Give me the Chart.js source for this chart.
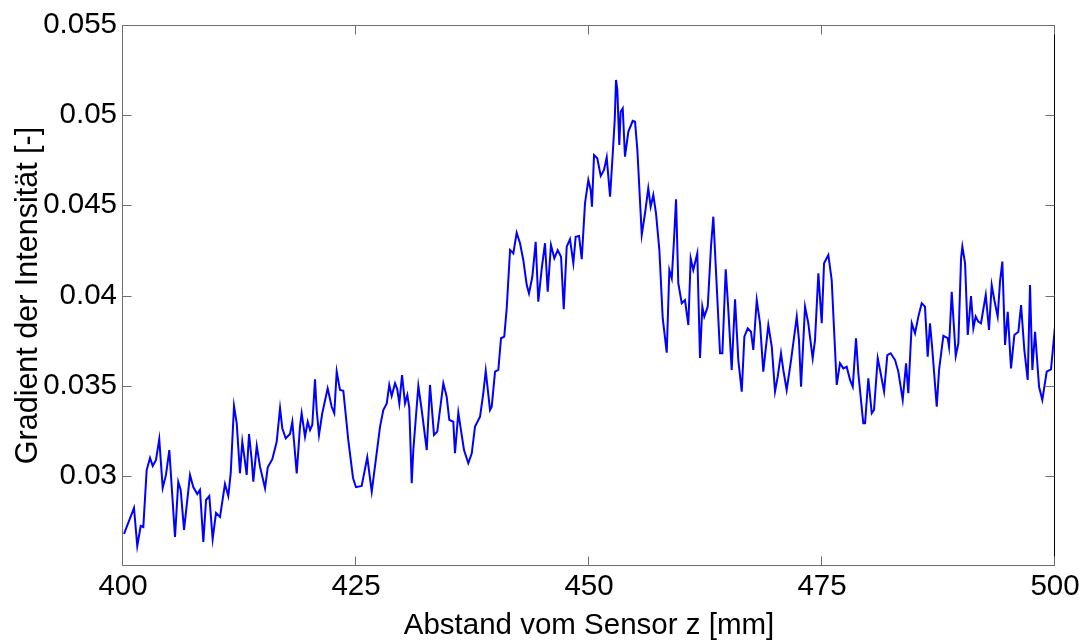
<!DOCTYPE html>
<html>
<head>
<meta charset="utf-8">
<script src="https://cdn.jsdelivr.net/npm/chart.js@4/dist/chart.umd.min.js"></script>
<style>
html,body{margin:0;padding:0;background:#fff;}
#wrap{width:1085px;height:641px;position:relative;}
</style>
</head>
<body>
<div id="wrap"><canvas id="c" width="1085" height="641"></canvas></div>
<script>
// Abstand vom Sensor z [mm]
const distance = [
400.11,401.18,401.53,401.90,402.18,402.54,402.90,403.19,403.54,403.89,404.26,404.61,404.97,405.58,405.93,406.19,406.55,407.19,407.54,407.97,408.26,408.62,408.91,409.26,409.62,409.98,410.41,410.94,411.30,411.56,411.91,412.20,
412.55,412.80,413.02,413.27,413.52,413.81,413.98,414.35,414.70,415.24,415.53,416.02,416.49,416.85,417.09,417.46,417.92,418.17,418.64,418.99,419.17,419.53,419.82,420.07,420.31,420.60,420.78,421.03,421.38,421.96,422.39,422.67,422.93,423.28,423.64,424.17,
424.68,425.00,425.61,426.21,426.69,427.58,427.93,428.30,428.57,428.83,429.19,429.43,429.65,429.94,430.26,430.51,430.72,430.98,431.15,431.69,432.05,432.59,432.94,433.37,433.72,434.37,434.73,435.01,435.44,435.62,435.98,436.34,436.59,
437.05,437.42,437.77,438.31,438.66,438.92,439.38,439.56,439.92,440.27,440.56,440.91,441.17,441.53,441.88,442.24,442.60,442.95,443.32,443.56,443.92,444.28,444.56,444.93,445.28,445.57,445.92,446.28,446.64,447.00,447.29,447.61,447.96,448.32,448.57,448.93,449.22,
449.57,449.93,450.18,450.32,450.54,450.89,451.26,451.61,451.90,452.26,452.55,452.76,452.90,453.04,453.25,453.40,453.62,453.86,454.22,454.69,454.94,455.19,455.66,456.01,456.36,456.62,456.90,457.19,457.55,457.91,458.34,458.62,458.88,459.12,459.34,459.58,459.95,460.30,460.66,460.91,461.19,461.62,
461.91,462.16,462.37,462.74,463.09,463.34,463.60,464.06,464.31,464.67,464.95,465.31,465.67,466.02,466.39,466.67,467.03,467.38,467.63,468.00,468.35,468.70,469.24,469.61,469.96,470.25,470.60,470.85,471.21,471.68,472.29,472.53,472.75,473.18,473.53,474.00,
474.25,474.61,474.97,475.22,475.68,476.04,476.58,476.93,477.29,477.65,478.01,478.30,478.65,478.90,479.43,479.62,479.97,480.34,480.58,480.98,481.23,481.66,482.01,482.37,482.84,483.19,483.66,484.02,484.26,484.63,484.98,485.34,485.70,486.05,
486.34,486.59,486.84,487.31,487.56,488.02,488.49,488.63,488.92,489.35,489.63,489.92,490.06,490.35,490.64,490.99,491.24,491.49,491.77,492.06,492.57,492.92,493.21,493.49,493.85,494.10,494.35,494.64,494.93,495.28,495.64,496.07,496.36,496.71,497.07,497.32,497.57,497.86,498.29,498.64,499.11,499.57,500.00
];
// Gradient der Intensität [-]
const gradient = [
0.02678,0.02822,0.02611,0.02722,0.02716,0.03032,0.03099,0.03055,0.03088,0.03204,0.02933,0.03005,0.03143,0.02661,0.02966,0.02922,0.02700,0.03005,0.02938,0.02899,0.02922,0.02633,0.02866,0.02888,0.02650,0.02794,0.02772,0.02955,0.02888,0.03016,0.03387,0.03293,
0.03014,0.03189,0.03106,0.03005,0.03232,0.03088,0.02968,0.03166,0.03051,0.02931,0.03047,0.03092,0.03189,0.03375,0.03264,0.03208,0.03232,0.03300,0.03014,0.03273,0.03347,0.03217,0.03300,0.03254,0.03282,0.03535,0.03365,0.03227,0.03347,0.03485,0.03383,0.03347,0.03578,0.03476,0.03472,0.03199,
0.02988,0.02937,0.02944,0.03103,0.02912,0.03273,0.03365,0.03402,0.03504,0.03443,0.03513,0.03480,0.03402,0.03559,0.03402,0.03448,0.03375,0.02959,0.03143,0.03498,0.03365,0.03143,0.03504,0.03227,0.03245,0.03513,0.03439,0.03310,0.03300,0.03125,0.03350,0.03227,0.03143,
0.03070,0.03125,0.03273,0.03328,0.03458,0.03583,0.03365,0.03383,0.03578,0.03587,0.03763,0.03772,0.03929,0.04252,0.04234,0.04348,0.04290,0.04197,0.04058,0.04012,0.04104,0.04298,0.03966,0.04151,0.04290,0.04021,0.04280,0.04206,0.04252,0.04215,0.03924,0.04271,0.04312,0.04179,0.04326,0.04330,0.04201,
0.04511,0.04641,0.04585,0.04492,0.04779,0.04761,0.04663,0.04696,0.04766,0.04548,0.04789,0.04973,0.05195,0.05140,0.04835,0.05019,0.05038,0.04770,0.04908,0.04969,0.04964,0.04807,0.04336,0.04456,0.04595,0.04492,0.04557,0.04456,0.04252,0.03874,0.03683,0.04141,0.04095,0.04308,0.04533,0.04068,0.03957,0.03975,0.03836,0.04206,0.04141,0.04234,
0.03654,0.03938,0.03883,0.03938,0.04271,0.04437,0.04160,0.03680,0.03680,0.04145,0.03920,0.03587,0.03979,0.03642,0.03467,0.03772,0.03818,0.03799,0.03698,0.03975,0.03846,0.03578,0.03836,0.03716,0.03467,0.03550,0.03680,0.03587,0.03476,0.03642,0.03883,0.03753,0.03494,0.03938,0.03846,0.03652,
0.03753,0.04123,0.03846,0.04179,0.04225,0.04086,0.03504,0.03624,0.03596,0.03605,0.03532,0.03494,0.03763,0.03569,0.03291,0.03291,0.03541,0.03347,0.03365,0.03652,0.03587,0.03467,0.03670,0.03680,0.03642,0.03578,0.03421,0.03624,0.03458,0.03846,0.03790,0.03883,0.03957,0.03938,
0.03661,0.03846,0.03698,0.03383,0.03587,0.03776,0.03763,0.03716,0.04021,0.03665,0.03735,0.04206,0.04271,0.04179,0.03781,0.03997,0.03818,0.03883,0.03855,0.03846,0.04003,0.03809,0.04058,0.03975,0.03883,0.04077,0.04188,0.03726,0.03910,0.03596,0.03781,0.03799,0.03947,0.03698,0.03532,0.04058,0.03587,0.03799,0.03494,0.03421,0.03578,0.03591,0.03827
];
const xTicks = [400, 425, 450, 475, 500];
const yTicks = [0.03, 0.035, 0.04, 0.045, 0.05, 0.055];

const FONT = "'Liberation Sans', Arial, Helvetica, sans-serif";

const boxPlugin = {
  id: 'matlabBox',
  afterDraw(chart) {
    const {ctx, chartArea: a, scales} = chart;
    ctx.save();
    ctx.lineWidth = 1;
    ctx.strokeStyle = '#6e6e6e';
    const L = Math.round(a.left) - 0.5, R = Math.round(a.right) - 0.5;
    const T = Math.round(a.top) + 0.5, B = Math.round(a.bottom) - 0.5;
    ctx.beginPath();
    ctx.moveTo(R, T); ctx.lineTo(L, T); ctx.lineTo(L, B); ctx.lineTo(R, B);
    ctx.stroke();
    ctx.strokeStyle = '#000';
    ctx.beginPath(); ctx.moveTo(R, T); ctx.lineTo(R, B); ctx.stroke();
    ctx.strokeStyle = '#6e6e6e';
    const tl = 9;
    xTicks.forEach(v => {
      const px = Math.round(scales.x.getPixelForValue(v)) - 0.5;
      ctx.beginPath();
      ctx.moveTo(px, B); ctx.lineTo(px, B - tl);
      ctx.moveTo(px, T); ctx.lineTo(px, T + tl);
      ctx.stroke();
    });
    yTicks.forEach(v => {
      const py = Math.round(scales.y.getPixelForValue(v)) + 0.5;
      ctx.beginPath();
      ctx.moveTo(L, py); ctx.lineTo(L + tl, py);
      ctx.moveTo(R, py); ctx.lineTo(R - tl, py);
      ctx.stroke();
    });
    ctx.restore();
  }
};

new Chart(document.getElementById('c'), {
  type: 'line',
  data: {
    datasets: [{
      data: distance.map((x, i) => ({x: x, y: gradient[i]})),
      borderColor: '#0000ff',
      borderWidth: 2,
      pointRadius: 0,
      tension: 0,
      fill: false
    }]
  },
  options: {
    responsive: false,
    animation: false,
    devicePixelRatio: 1,
    layout: {padding: {top: 25, right: 30, left: 0, bottom: 0}},
    plugins: {legend: {display: false}, tooltip: {enabled: false}},
    scales: {
      x: {
        type: 'linear',
        min: 400, max: 500,
        afterBuildTicks: s => { s.ticks = xTicks.map(v => ({value: v})); },
        afterFit: s => { s.height = 75; },
        grid: {display: false, drawTicks: false},
        border: {display: false},
        ticks: {
          color: '#000', padding: 3,
          font: {family: FONT, size: 29.5},
          maxRotation: 0, autoSkip: false,
          callback: v => String(v)
        },
        title: {
          display: true, text: 'Abstand vom Sensor z [mm]', color: '#000',
          font: {family: FONT, size: 29.5, lineHeight: 1},
          padding: {top: 0, bottom: 0}
        }
      },
      y: {
        type: 'linear',
        min: 0.025, max: 0.055,
        afterBuildTicks: s => { s.ticks = yTicks.map(v => ({value: v})); },
        afterFit: s => { s.width = 123; },
        grid: {display: false, drawTicks: false},
        border: {display: false},
        ticks: {
          color: '#000', padding: 6,
          font: {family: FONT, size: 29.5},
          autoSkip: false,
          callback: v => String(Number(v.toFixed(3)))
        },
        title: {
          display: true, text: 'Gradient der Intensität [-]', color: '#000',
          font: {family: FONT, size: 30.5, lineHeight: 1},
          padding: {top: 13, bottom: 0}
        }
      }
    }
  },
  plugins: [boxPlugin]
});
</script>
</body>
</html>
